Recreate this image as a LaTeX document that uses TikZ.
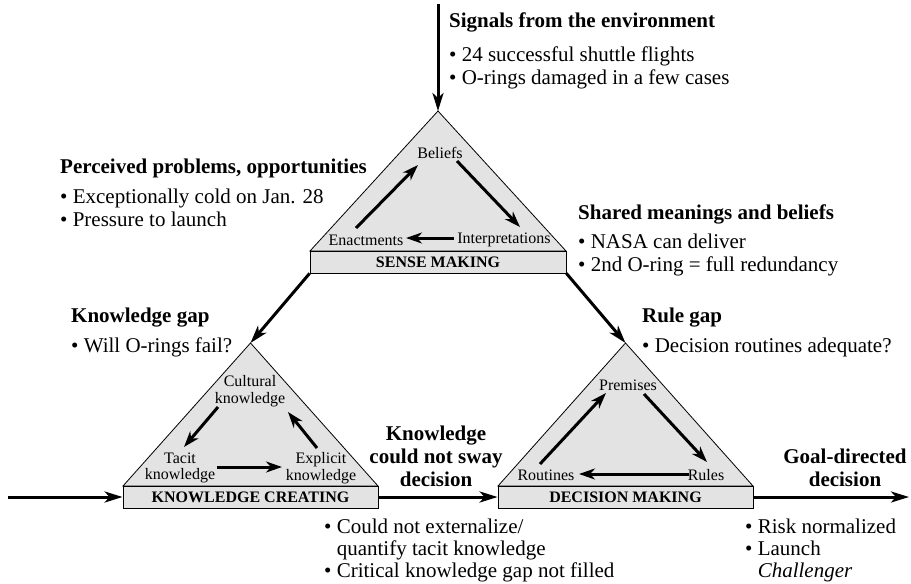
\documentclass[tikz,border=0pt]{standalone}
\usepackage{fontspec}
\setmainfont{Liberation Serif}
\usetikzlibrary{arrows.meta}
\begin{document}
\begin{tikzpicture}[x=1pt,y=-1pt,
  flow/.style={line width=3pt, -{Stealth[length=18pt,width=11pt,inset=5pt]}},
  cyc/.style={line width=3pt, -{Stealth[length=16pt,width=11pt,inset=5pt]}},
  tri/.style={draw=black, line width=0.8pt, fill=black!11, line join=miter},
  stagebox/.style={draw=black, line width=0.8pt, fill=black!11, inner sep=0pt,
    minimum width=255pt, minimum height=22pt, font=\fontsize{16}{17}\selectfont\bfseries},
  head/.style={anchor=base west, inner sep=0pt, font=\fontsize{21}{23}\selectfont\bfseries},
  item/.style={anchor=base west, inner sep=0pt, font=\fontsize{21}{23}\selectfont},
  chead/.style={anchor=base, inner sep=0pt, font=\fontsize{21}{23}\selectfont\bfseries},
  lab/.style={inner sep=0pt, font=\fontsize{16}{16.5}\selectfont, align=center},
]
\useasboundingbox (0,0) rectangle (911,584);

% --- triangles and stage boxes ---
\path[tri] (310,251) -- (438,111) -- (566,251) -- cycle;
\path[tri] (123,486) -- (250.5,343) -- (378,486) -- cycle;
\path[tri] (498,486) -- (625.5,343) -- (753,486) -- cycle;
\coordinate (smtop) at (438,111);
\coordinate (kctop) at (250.5,343);
\coordinate (dmtop) at (625.5,343);

\node[stagebox, minimum width=256pt] (smbox) at (438,262) {SENSE MAKING};
\node[stagebox] (kcbox) at (250.5,497) {KNOWLEDGE CREATING};
\node[stagebox] (dmbox) at (625.5,497) {DECISION MAKING};

% --- main flow ---
\coordinate (signal) at (438,4);
\coordinate (inflow) at (8,497);
\coordinate (outflow) at (909,497);
\draw[flow] (signal) -- (smtop);
\draw[flow] (smbox.south west) -- (kctop);
\draw[flow] (smbox.south east) -- (dmtop);
\draw[flow] (inflow) -- (kcbox.west);
\draw[flow] (kcbox.east) -- (dmbox.west);
\draw[flow] (dmbox.east) -- (outflow);

% --- sense making cycle ---
\node[lab] (beliefs) at (440,153) {Beliefs};
\node[lab] (enact) at (366,240) {Enactments};
\node[lab] (interp) at (504,240) {Interpretations};
\coordinate (e1) at (356,228); \coordinate (b1) at (418,165);
\coordinate (b2) at (457,161); \coordinate (i1) at (520,227);
\coordinate (i2) at (454,238); \coordinate (e2) at (406,238);
\draw[cyc] (e1) -- (b1);
\draw[cyc] (b2) -- (i1);
\draw[cyc] (i2) -- (e2);

% --- knowledge creating cycle ---
\node[lab] (cultural) at (250,391) {Cultural\\knowledge};
\node[lab] (tacit) at (180,468) {Tacit\\knowledge};
\node[lab] (explicit) at (321,468) {Explicit\\knowledge};
\coordinate (c1) at (218,407); \coordinate (t1) at (184,447);
\coordinate (t2) at (217,467); \coordinate (x1) at (282,467);
\coordinate (x2) at (317,448); \coordinate (c2) at (288,412);
\draw[cyc] (c1) -- (t1);
\draw[cyc] (t2) -- (x1);
\draw[cyc] (x2) -- (c2);

% --- decision making cycle ---
\node[lab] (premises) at (628,385) {Premises};
\node[lab] (routines) at (546,475) {Routines};
\node[lab] (rules) at (706,475) {Rules};
\coordinate (r1) at (540,464); \coordinate (p1) at (606,393);
\coordinate (p2) at (644,394); \coordinate (u1) at (707,462);
\coordinate (u2) at (689,474); \coordinate (r2) at (579,474);
\draw[cyc] (r1) -- (p1);
\draw[cyc] (p2) -- (u1);
\draw[cyc] (u2) -- (r2);

% --- annotations ---
\node[head] (sigh) at (449,27) {Signals from the environment};
\node[item] (sig1) at (449,61) {• 24 successful shuttle flights};
\node[item] (sig2) at (449,84) {• O-rings damaged in a few cases};

\node[head] (perh) at (60,173) {Perceived problems, opportunities};
\node[item] (per1) at (60,203) {• Exceptionally cold on Jan. 28};
\node[item] (per2) at (60,226) {• Pressure to launch};

\node[head] (shah) at (578,219) {Shared meanings and beliefs};
\node[item] (sha1) at (578,248) {• NASA can deliver};
\node[item] (sha2) at (578,271) {• 2nd O-ring = full redundancy};

\node[head] (kgh) at (71,322) {Knowledge gap};
\node[item] (kg1) at (71,352) {• Will O-rings fail?};

\node[head] (rgh) at (642,322) {Rule gap};
\node[item] (rg1) at (642,352) {• Decision routines adequate?};

\node[chead] (ks1) at (436,440) {Knowledge};
\node[chead] (ks2) at (436,463) {could not sway};
\node[chead] (ks3) at (436,486) {decision};

\node[chead] (gd1) at (845,463) {Goal-directed};
\node[chead] (gd2) at (845,486) {decision};

\node[item] (cn1) at (324,533) {• Could not externalize/};
\node[item] (cn2) at (324,555) {\phantom{• }quantify tacit knowledge};
\node[item] (cn3) at (324,577) {• Critical knowledge gap not filled};

\node[item] (rk1) at (745,533) {• Risk normalized};
\node[item] (rk2) at (745,555) {• Launch};
\node[item] (rk3) at (745,577) {\phantom{• }\textit{Challenger}};
\end{tikzpicture}
\end{document}
